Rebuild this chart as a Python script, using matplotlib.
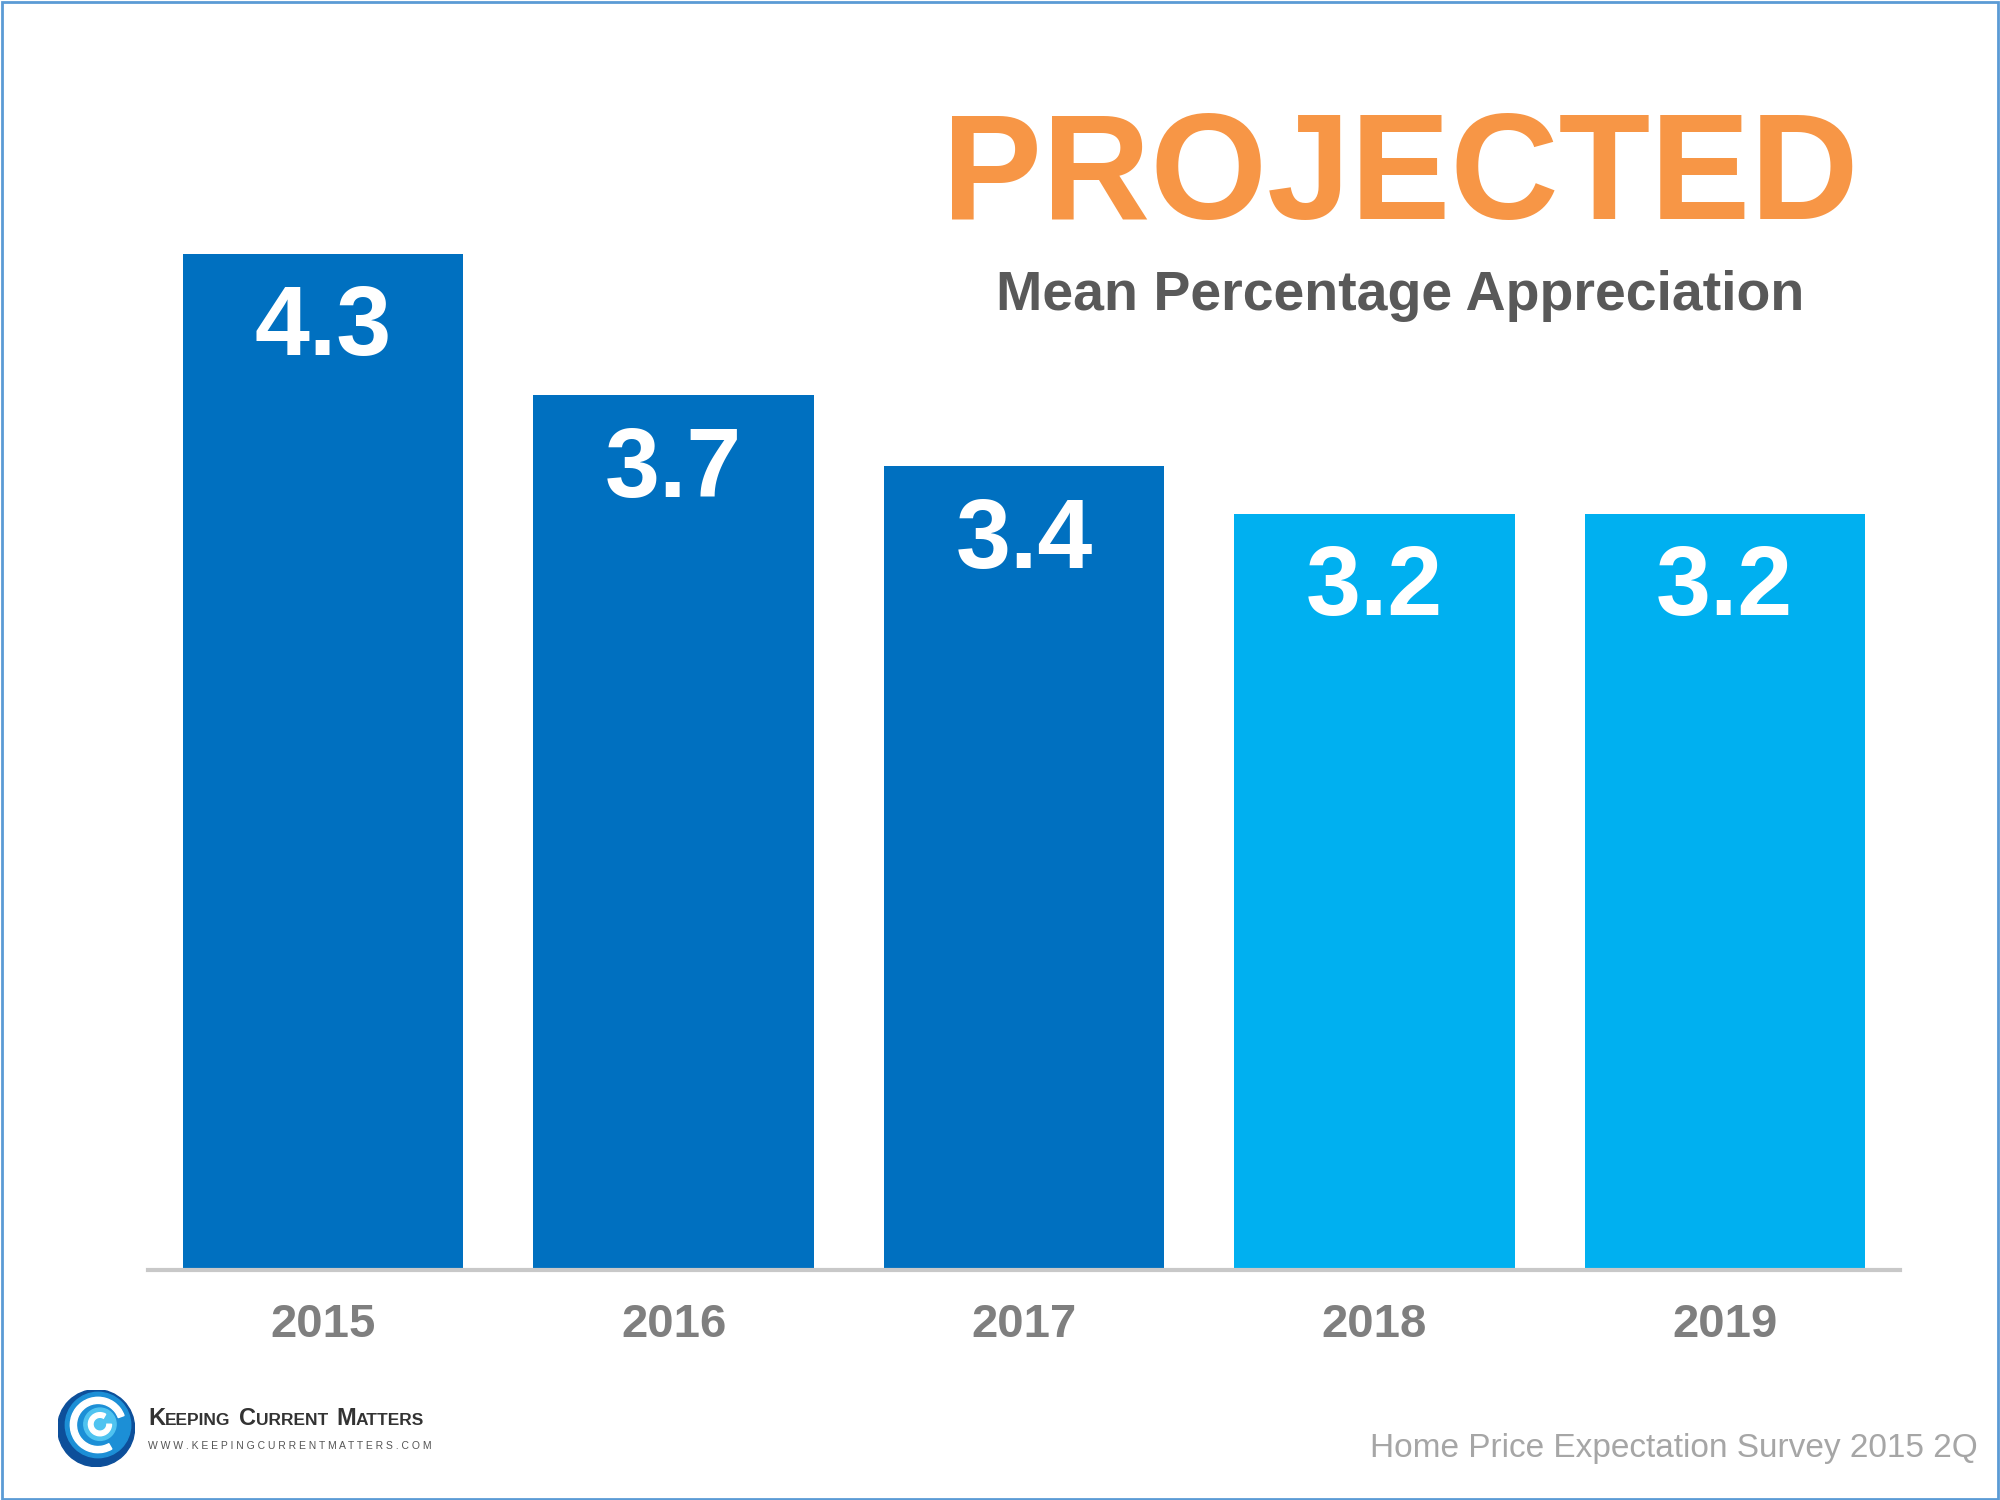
import matplotlib.pyplot as plt
from matplotlib.patches import Circle, Wedge, Rectangle

years = ["2015", "2016", "2017", "2018", "2019"]
values = [4.3, 3.7, 3.4, 3.2, 3.2]
bar_colors = ["#0070C0", "#0070C0", "#0070C0", "#00B0F0", "#00B0F0"]

plt.rcParams["font.family"] = ["Liberation Sans", "DejaVu Sans"]

fig = plt.figure(figsize=(20, 15), dpi=100)
ax = fig.add_axes([0.074, 0.1533, 0.876, 0.788])

x = range(len(years))
ax.bar(x, values, width=0.8, color=bar_colors, zorder=2)
ax.set_xlim(-0.5, 4.5)
ax.set_ylim(0, 5)

# value labels inside the bars
for i, v in enumerate(values):
    ax.annotate(f"{v}", (i, v), xytext=(0, -22), textcoords="offset points",
                ha="center", va="top", color="white", fontsize=71, fontweight="bold")

for s in ["top", "right", "left"]:
    ax.spines[s].set_visible(False)
ax.spines["bottom"].set_color("#C8C8C8")
ax.spines["bottom"].set_linewidth(3)
ax.set_yticks([])
ax.set_xticks(list(x))
ax.set_xticklabels(years, fontsize=34, fontweight="bold", color="#7F7F7F")
ax.tick_params(axis="x", length=0, pad=24)

# titles
fig.text(0.700, 0.880, "PROJECTED", ha="center", va="center", fontsize=108,
         fontweight="bold", color="#F79646")
fig.text(0.700, 0.803, "Mean Percentage Appreciation", ha="center", va="center",
         fontsize=40, fontweight="bold", color="#595959")

# source
fig.text(0.989, 0.034, "Home Price Expectation Survey 2015 2Q", ha="right", va="center",
         fontsize=24, color="#A6A6A6")

# logo swirl
lax = fig.add_axes([0.0288, 0.0223, 0.0385, 0.0513])
lax.set_xlim(-1, 1)
lax.set_ylim(-1, 1)
lax.set_aspect("equal")
lax.axis("off")
lax.add_patch(Circle((0, 0), 1.0, color="#0D4F9A"))
lax.add_patch(Circle((0.05, 0.08), 0.85, color="#1C8FD6"))
lax.add_patch(Wedge((0.05, 0.08), 0.72, 20, 300, width=0.16, color="white"))
lax.add_patch(Circle((0.1, 0.1), 0.42, color="#4FC3F0"))
lax.add_patch(Wedge((0.1, 0.1), 0.3, 60, 360, width=0.12, color="white"))

# logo text in small caps
renderer = fig.canvas.get_renderer()
xpos = 0.074
for word in ["Keeping", "Current", "Matters"]:
    t1 = fig.text(xpos, 0.050, word[0], fontsize=17, fontweight="bold",
                  color="#333333", va="baseline")
    w1 = t1.get_window_extent(renderer).width / fig.bbox.width
    t2 = fig.text(xpos + w1, 0.050, word[1:].upper(), fontsize=12.5, fontweight="bold",
                  color="#333333", va="baseline")
    w2 = t2.get_window_extent(renderer).width / fig.bbox.width
    xpos += w1 + w2 + 0.004
fig.text(0.074, 0.034, "W W W . K E E P I N G C U R R E N T M A T T E R S . C O M",
         fontsize=7.5, color="#555555", va="baseline")

# thin frame round the picture
fig.patches.append(Rectangle((0.001, 0.001), 0.998, 0.998, transform=fig.transFigure,
                             fill=False, edgecolor="#5B9BD5", linewidth=2))

fig.savefig("out.png", dpi=100, facecolor="white")
